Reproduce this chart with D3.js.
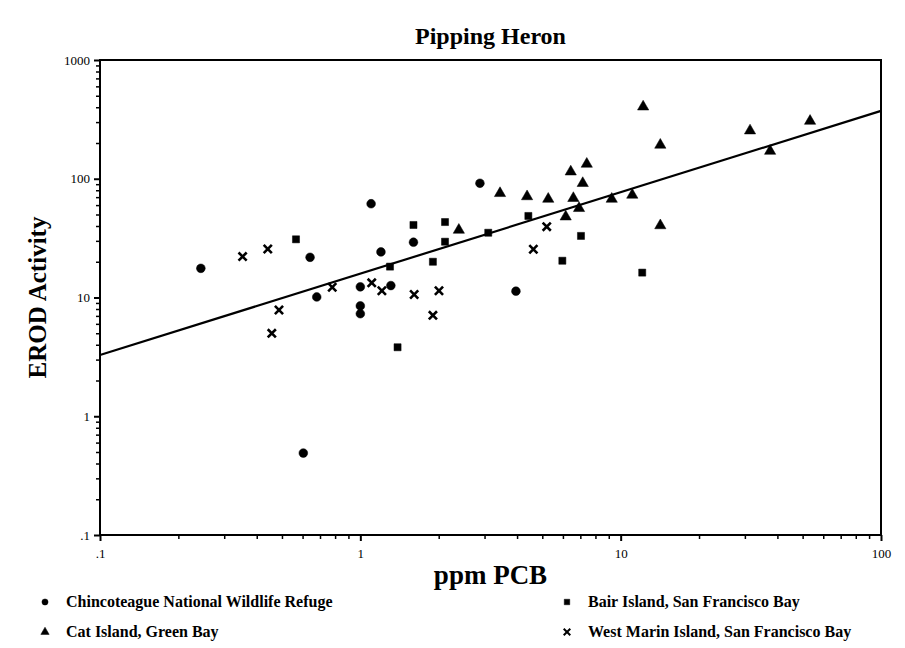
<!DOCTYPE html>
<html>
<head>
<meta charset="utf-8">
<script src="https://cdn.jsdelivr.net/npm/d3@7"></script>
<style>
  body { margin: 0; background: #fff; }
  text { font-family: "Liberation Serif", "Times New Roman", serif; fill: #000; }
</style>
</head>
<body>
<div id="chart"></div>
<script>
// Chincoteague National Wildlife Refuge (circles)
var chincX = [0.244, 0.641, 0.68, 0.604, 1.10, 1.20, 1.00, 1.00, 1.00, 1.31, 1.60, 2.88, 3.96];
var chincY = [17.6, 21.8, 10.1, 0.49, 61.6, 24.2, 12.3, 8.5, 7.3, 12.6, 29.2, 91.6, 11.3];
// Cat Island, Green Bay (triangles)
var catX = [2.39, 3.44, 4.37, 5.27, 6.58, 6.43, 7.41, 7.15, 6.92, 6.15, 9.24, 11.08, 12.2, 14.2, 14.2, 31.4, 37.5, 53.4];
var catY = [37, 75.4, 70.9, 67.5, 68.5, 114.6, 133.1, 91.6, 56.4, 47.9, 67.5, 73, 404, 192.5, 40.4, 254, 171, 306];
// Bair Island, San Francisco Bay (squares)
var bairX = [0.566, 1.30, 1.39, 1.60, 1.90, 2.115, 2.115, 3.10, 4.42, 5.97, 7.04, 12.1];
var bairY = [30.9, 18.2, 3.81, 40.8, 20.0, 43.2, 29.5, 35.1, 48.6, 20.4, 33.0, 16.2];
// West Marin Island, San Francisco Bay (crosses)
var marinX = [0.353, 0.441, 0.487, 0.457, 0.78, 1.106, 1.21, 1.61, 2.005, 1.90, 5.20, 4.62];
var marinY = [22.1, 25.6, 7.85, 4.99, 12.2, 13.3, 11.4, 10.6, 11.4, 7.08, 39.5, 25.5];

// regression line end points
var fitX = [0.1, 100];
var fitY = [3.28, 373];

var xMajor = [0.1, 1, 10, 100];
var xLabels = ['.1', '1', '10', '100'];
var yMajor = [0.1, 1, 10, 100, 1000];
var yLabels = ['.1', '1', '10', '100', '1000'];

var W = 905, H = 648;
var pLeft = 100, pRight = 881, pTop = 60, pBottom = 535;

var svg = d3.select('#chart').append('svg')
    .attr('width', W)
    .attr('height', H);

var x = d3.scaleLog().domain([0.1, 100]).range([pLeft, pRight]);
var y = d3.scaleLog().domain([0.1, 1000]).range([pBottom, pTop]);

function minors(majors) {
    var out = [];
    for (var i = 0; i < majors.length - 1; i++) {
        for (var k = 2; k <= 9; k++) out.push(majors[i] * k);
    }
    return out;
}

// minor ticks
svg.append('g')
    .attr('transform', 'translate(0,' + pBottom + ')')
    .call(d3.axisBottom(x).tickValues(minors(xMajor)).tickSize(4).tickFormat(''))
    .call(function (g) { g.select('.domain').remove(); g.selectAll('line').attr('stroke-width', 1.5); });
svg.append('g')
    .attr('transform', 'translate(' + pLeft + ',0)')
    .call(d3.axisLeft(y).tickValues(minors(yMajor)).tickSize(4).tickFormat(''))
    .call(function (g) { g.select('.domain').remove(); g.selectAll('line').attr('stroke-width', 1.5); });

// major ticks + labels
svg.append('g')
    .attr('transform', 'translate(0,' + pBottom + ')')
    .call(d3.axisBottom(x).tickValues(xMajor).tickSize(6).tickPadding(8)
        .tickFormat(function (d, i) { return xLabels[i]; }))
    .call(function (g) {
        g.select('.domain').remove();
        g.selectAll('line').attr('stroke-width', 2);
        g.selectAll('text').attr('fill', '#000')
            .style('font-size', '13px').style('font-family', '"Liberation Serif", serif');
    });
svg.append('g')
    .attr('transform', 'translate(' + pLeft + ',0)')
    .call(d3.axisLeft(y).tickValues(yMajor).tickSize(6).tickPadding(4)
        .tickFormat(function (d, i) { return yLabels[i]; }))
    .call(function (g) {
        g.select('.domain').remove();
        g.selectAll('line').attr('stroke-width', 2);
        g.selectAll('text').attr('fill', '#000')
            .style('font-size', '13px').style('font-family', '"Liberation Serif", serif');
    });

// frame
svg.append('rect')
    .attr('x', pLeft).attr('y', pTop)
    .attr('width', pRight - pLeft).attr('height', pBottom - pTop)
    .attr('fill', 'none').attr('stroke', '#000').attr('stroke-width', 2);

// regression line
svg.append('line')
    .attr('x1', x(fitX[0])).attr('y1', y(fitY[0]))
    .attr('x2', x(fitX[1])).attr('y2', y(fitY[1]))
    .attr('stroke', '#000').attr('stroke-width', 2.2);

function pairs(xs, ys) { return xs.map(function (v, i) { return [v, ys[i]]; }); }

var sym = {
    circle: d3.symbol().type(d3.symbolCircle).size(60),
    triangle: d3.symbol().type(d3.symbolTriangle).size(55),
    square: d3.symbol().type(d3.symbolSquare).size(50),
    cross: d3.symbol().type(d3.symbolTimes).size(45)
};

function drawSeries(data, kind) {
    svg.append('g').selectAll('path')
        .data(data)
        .enter()
        .append('path')
            .attr('transform', function (d) { return 'translate(' + x(d[0]) + ',' + y(d[1]) + ')'; })
            .attr('d', sym[kind])
            .attr('fill', kind === 'cross' ? 'none' : '#000')
            .attr('stroke', '#000')
            .attr('stroke-width', kind === 'cross' ? 2.6 : 0.5);
}

drawSeries(pairs(chincX, chincY), 'circle');
drawSeries(pairs(catX, catY), 'triangle');
drawSeries(pairs(bairX, bairY), 'square');
drawSeries(pairs(marinX, marinY), 'cross');

// titles
svg.append('text')
    .attr('x', (pLeft + pRight) / 2).attr('y', 44)
    .attr('text-anchor', 'middle')
    .style('font-size', '24px').style('font-weight', 'bold')
    .text('Pipping Heron');

svg.append('text')
    .attr('x', (pLeft + pRight) / 2).attr('y', 584)
    .attr('text-anchor', 'middle')
    .style('font-size', '27px').style('font-weight', 'bold')
    .text('ppm PCB');

svg.append('text')
    .attr('transform', 'translate(46,' + ((pTop + pBottom) / 2) + ') rotate(-90)')
    .attr('text-anchor', 'middle')
    .style('font-size', '25px').style('font-weight', 'bold')
    .text('EROD Activity');

// legend
var legendNames = ['Chincoteague National Wildlife Refuge', 'Cat Island, Green Bay',
    'Bair Island, San Francisco Bay', 'West Marin Island, San Francisco Bay'];
var legendKinds = ['circle', 'triangle', 'square', 'cross'];
var legendPos = [[45, 607], [45, 637], [567, 607], [567, 637]];

var leg = svg.append('g').selectAll('g')
    .data(legendNames)
    .enter()
    .append('g')
        .attr('transform', function (d, i) { return 'translate(' + legendPos[i][0] + ',' + legendPos[i][1] + ')'; });

leg.append('path')
    .attr('transform', 'translate(0,-5)')
    .attr('d', function (d, i) {
        return d3.symbol().type([d3.symbolCircle, d3.symbolTriangle, d3.symbolSquare, d3.symbolTimes][i]).size(30)();
    })
    .attr('fill', function (d, i) { return legendKinds[i] === 'cross' ? 'none' : '#000'; })
    .attr('stroke', '#000')
    .attr('stroke-width', function (d, i) { return legendKinds[i] === 'cross' ? 2 : 0.5; });

leg.append('text')
    .attr('x', 21)
    .style('font-size', '16px').style('font-weight', 'bold')
    .text(function (d) { return d; });
</script>
</body>
</html>
